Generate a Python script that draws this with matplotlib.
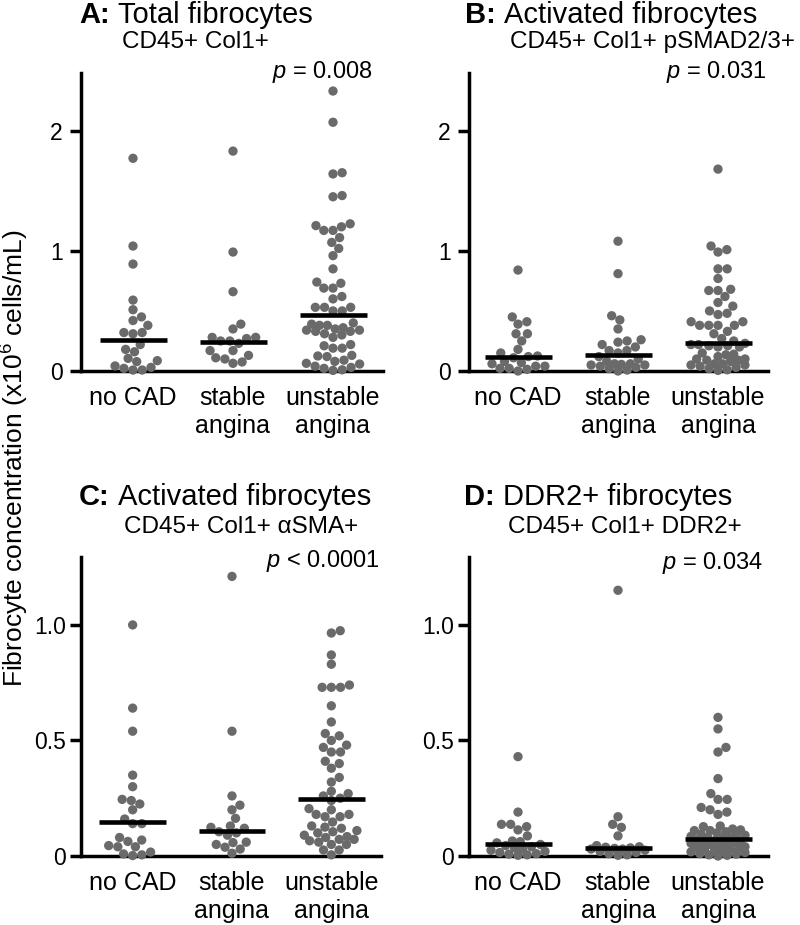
import numpy as np
import matplotlib
matplotlib.use("Agg")
import matplotlib.pyplot as plt

plt.rcParams['font.family'] = ['Liberation Sans', 'DejaVu Sans']
plt.rcParams['mathtext.fontset'] = 'custom'
plt.rcParams['mathtext.rm'] = 'Liberation Sans'
plt.rcParams['mathtext.it'] = 'Liberation Sans:italic'
plt.rcParams['mathtext.bf'] = 'Liberation Sans:bold'

# ---------------- data ----------------
categories = ["no CAD", "stable\nangina", "unstable\nangina"]

A_no = [1.77, 1.04, 0.89, 0.59, 0.51, 0.45, 0.42, 0.38, 0.32, 0.31, 0.32, 0.22, 0.18, 0.16,
        0.105, 0.086, 0.078, 0.042, 0.022, 0.03, 0.008, 0.008]
A_stable = [1.83, 0.99, 0.66, 0.39, 0.35, 0.28, 0.27, 0.25, 0.23, 0.25, 0.28, 0.17, 0.13, 0.10,
            0.064, 0.075, 0.11, 0.17]
A_unstable = [2.33, 2.07, 1.65, 1.64, 1.46, 1.45, 1.225, 1.21, 1.20, 1.17, 1.17, 1.11, 1.07, 1.02,
              0.96, 0.85, 0.74, 0.73, 0.69, 0.69, 0.62, 0.60, 0.53, 0.53, 0.53, 0.50, 0.50, 0.40,
              0.39, 0.38, 0.38, 0.36, 0.35, 0.34, 0.34, 0.33, 0.33, 0.31, 0.30, 0.28, 0.22, 0.21,
              0.19, 0.19, 0.13, 0.125, 0.12, 0.09, 0.08, 0.064, 0.058, 0.04, 0.03, 0.022, 0.01, 0.005]
A_medians = [0.26, 0.24, 0.47]

B_no = [0.84, 0.45, 0.41, 0.39, 0.31, 0.31, 0.25, 0.18, 0.15, 0.125, 0.12, 0.11, 0.08, 0.07,
        0.06, 0.04, 0.04, 0.022, 0.022, 0.014, 0.0]
B_stable = [1.08, 0.81, 0.46, 0.425, 0.35, 0.26, 0.25, 0.24, 0.22, 0.20, 0.17, 0.17, 0.15, 0.12,
            0.10, 0.08, 0.06, 0.06, 0.055, 0.05, 0.05, 0.04, 0.03, 0.02, 0.008, 0.0]
B_unstable = [1.68, 1.04, 1.01, 0.99, 0.85, 0.85, 0.77, 0.68, 0.67, 0.67, 0.62, 0.57, 0.54, 0.50,
              0.48, 0.47, 0.41, 0.41, 0.38, 0.38, 0.38, 0.38, 0.33, 0.31, 0.27, 0.25, 0.23, 0.22,
              0.22, 0.21, 0.21, 0.20, 0.20, 0.15, 0.14, 0.135, 0.12, 0.10, 0.10, 0.09, 0.09, 0.08,
              0.06, 0.06, 0.05, 0.05, 0.04, 0.03, 0.02, 0.01, 0.005]
B_medians = [0.12, 0.13, 0.23]

C_no = [1.00, 0.64, 0.54, 0.35, 0.30, 0.245, 0.24, 0.225, 0.20, 0.16, 0.14, 0.14, 0.08, 0.069,
        0.063, 0.045, 0.04, 0.04, 0.017, 0.009, 0.005, 0.002]
C_stable = [1.21, 0.54, 0.26, 0.22, 0.20, 0.163, 0.13, 0.124, 0.12, 0.105, 0.10, 0.09, 0.06, 0.058,
            0.05, 0.038, 0.03, 0.012]
C_unstable = [0.975, 0.965, 0.87, 0.83, 0.74, 0.73, 0.73, 0.73, 0.65, 0.58, 0.53, 0.52, 0.50, 0.48,
              0.47, 0.45, 0.45, 0.41, 0.40, 0.38, 0.34, 0.32, 0.28, 0.27, 0.26, 0.25, 0.24, 0.205,
              0.20, 0.18, 0.18, 0.17, 0.17, 0.147, 0.13, 0.125, 0.12, 0.11, 0.105, 0.10, 0.09, 0.084,
              0.08, 0.072, 0.072, 0.066, 0.06, 0.05, 0.05, 0.026, 0.026, 0.005]
C_medians = [0.145, 0.11, 0.245]

D_no = [0.43, 0.19, 0.137, 0.137, 0.127, 0.113, 0.087, 0.065, 0.062, 0.057, 0.05, 0.045, 0.04,
        0.035, 0.03, 0.025, 0.02, 0.015, 0.01, 0.008, 0.005, 0.003]
D_stable = [1.15, 0.17, 0.137, 0.124, 0.087, 0.045, 0.04, 0.038, 0.035, 0.033, 0.03, 0.03, 0.025,
            0.02, 0.015, 0.01, 0.005, 0.003]
D_unstable = [0.60, 0.55, 0.47, 0.45, 0.335, 0.27, 0.245, 0.245, 0.21, 0.20, 0.19, 0.18, 0.13,
              0.127, 0.117, 0.113, 0.11, 0.11, 0.105, 0.10, 0.095, 0.09, 0.09, 0.085, 0.08, 0.08,
              0.078, 0.07, 0.068, 0.065, 0.06, 0.058, 0.055, 0.05, 0.05, 0.045, 0.04, 0.038, 0.035,
              0.03, 0.03, 0.025, 0.02, 0.018, 0.015, 0.01, 0.008, 0.005, 0.003, 0.0]
D_medians = [0.05, 0.034, 0.074]

titles_bold = ["A:", "B:", "C:", "D:"]
titles_rest = ["Total fibrocytes", "Activated fibrocytes", "Activated fibrocytes", "DDR2+ fibrocytes"]
subtitles = ["CD45+ Col1+", "CD45+ Col1+ pSMAD2/3+", "CD45+ Col1+ \u03b1SMA+", "CD45+ Col1+ DDR2+"]
p_ops = ["=", "=", "<", "="]
p_vals = ["0.008", "0.031", "0.0001", "0.034"]
yticks_AB = [0, 1, 2]
yticklabels_AB = ["0", "1", "2"]
yticks_CD = [0, 0.5, 1.0]
yticklabels_CD = ["0", "0.5", "1.0"]
ylabel = "Fibrocyte concentration (x10$^6$ cells/mL)"

# ---------------- layout ----------------
W, H = 800, 925
fig = plt.figure(figsize=(W / 100, H / 100), dpi=100)
DOT = '#6a6a6a'

def fx(x):
    return x / W

def fy(y):
    return 1 - y / H

panels = [
    dict(groups=[A_no, A_stable, A_unstable], med=A_medians, box=(81, 383, 73, 371), ylim=2.48,
         yt=yticks_AB, ytl=yticklabels_AB, pad=5, title=(196, 15), sub=(195, 42), p=(373, 72)),
    dict(groups=[B_no, B_stable, B_unstable], med=B_medians, box=(469, 768, 73, 371), ylim=2.48,
         yt=yticks_AB, ytl=yticklabels_AB, pad=5, title=(611, 15), sub=(652, 42), p=(767, 72)),
    dict(groups=[C_no, C_stable, C_unstable], med=C_medians, box=(81, 381, 557, 856), ylim=1.294,
         yt=yticks_CD, ytl=yticklabels_CD, pad=3, title=(225, 497), sub=(241, 527), p=(380, 561)),
    dict(groups=[D_no, D_stable, D_unstable], med=D_medians, box=(469, 768, 557, 856), ylim=1.294,
         yt=yticks_CD, ytl=yticklabels_CD, pad=3, title=(598, 497), sub=(625, 527), p=(763, 563)),
]

def swarm(ys, d, lim):
    """beeswarm in pixel space, offsets capped at +/- lim (points overlap beyond that)."""
    ys = np.asarray(ys, float)
    order = np.argsort(ys, kind='stable')
    placed = []
    xs = np.zeros(len(ys))
    grid = np.linspace(-lim, lim, 49)
    for i in order:
        y = ys[i]
        cands = [0.0]
        for (px, py) in placed:
            dy = abs(py - y)
            if dy < d:
                dx = np.sqrt(d * d - dy * dy)
                cands += [px + dx, px - dx]
        cands = sorted([c for c in cands if abs(c) <= lim + 1e-9], key=abs)
        chosen = None
        for c in cands:
            if all((c - px) ** 2 + (y - py) ** 2 >= d * d - 1e-6 for px, py in placed):
                chosen = c
                break
        if chosen is None:
            best, bestscore = 0.0, -1
            for c in sorted(grid, key=abs):
                m = min((c - px) ** 2 + (y - py) ** 2 for px, py in placed)
                if m > bestscore + 1e-6:
                    best, bestscore = c, m
            chosen = best
        xs[i] = chosen
        placed.append((chosen, y))
    return xs

renderer = fig.canvas.get_renderer()

for k, P in enumerate(panels):
    l, r, t, b = P['box']
    ax = fig.add_axes([fx(l), fy(b), (r - l) / W, (b - t) / H])
    centers = [0, 1, 2]
    left_edge = -0.52 if l == 81 else -0.49
    ax.set_xlim(left_edge, 2.5)
    ax.set_ylim(0, P['ylim'])
    for s in ['top', 'right']:
        ax.spines[s].set_visible(False)
    for s in ['left', 'bottom']:
        ax.spines[s].set_linewidth(2.5)
        ax.spines[s].set_capstyle('projecting')
    ax.set_yticks(P['yt'])
    ax.set_yticklabels(P['ytl'], fontsize=16.5)
    ax.tick_params(axis='y', length=8, width=2.5, pad=P['pad'], direction='out')
    ax.set_xticks(centers)
    ax.set_xticklabels(categories, fontsize=18)
    ax.tick_params(axis='x', length=0, pad=11)
    for lab in ax.get_xticklabels():
        lab.set_linespacing(1.22)

    x0p, y0p = ax.transData.transform((0, 0))
    x1p, y1p = ax.transData.transform((1, 1))
    sx = x1p - x0p
    sy = y1p - y0p
    d = 9.2
    for ci, vals in enumerate(P['groups']):
        vals = np.asarray(vals, float)
        offs = swarm(vals * sy, d, 27.0) / sx
        ax.scatter(ci + offs, vals, s=45, c=DOT, edgecolors='none', clip_on=False, zorder=3)
        ax.hlines(P['med'][ci], ci - 0.335, ci + 0.335, color='black', lw=3.3, zorder=4,
                  capstyle='butt')

    # title: bold "X:" + regular rest, centred as a whole
    tx, ty = P['title']
    fs_t = 21
    t1 = fig.text(0, fy(ty), titles_bold[k], fontsize=fs_t, fontweight='bold',
                  ha='left', va='center')
    t2 = fig.text(0, fy(ty), titles_rest[k], fontsize=fs_t, ha='left', va='center')
    w1 = t1.get_window_extent(renderer).width
    w2 = t2.get_window_extent(renderer).width
    gap = 0.278 * fs_t * 100 / 72
    x_start = tx - (w1 + gap + w2) / 2
    t1.set_x(fx(x_start))
    t2.set_x(fx(x_start + w1 + gap))

    sx_, sy_ = P['sub']
    fig.text(fx(sx_), fy(sy_), subtitles[k], fontsize=17.5, ha='center', va='center')
    px_, py_ = P['p']
    fig.text(fx(px_), fy(py_), r"$p$ " + p_ops[k] + " " + p_vals[k], fontsize=17,
             ha='right', va='center')

fig.text(fx(24), fy(458), ylabel, rotation=90, rotation_mode='anchor', fontsize=19,
         ha='center', va='baseline')

fig.savefig("out.png", dpi=100)
